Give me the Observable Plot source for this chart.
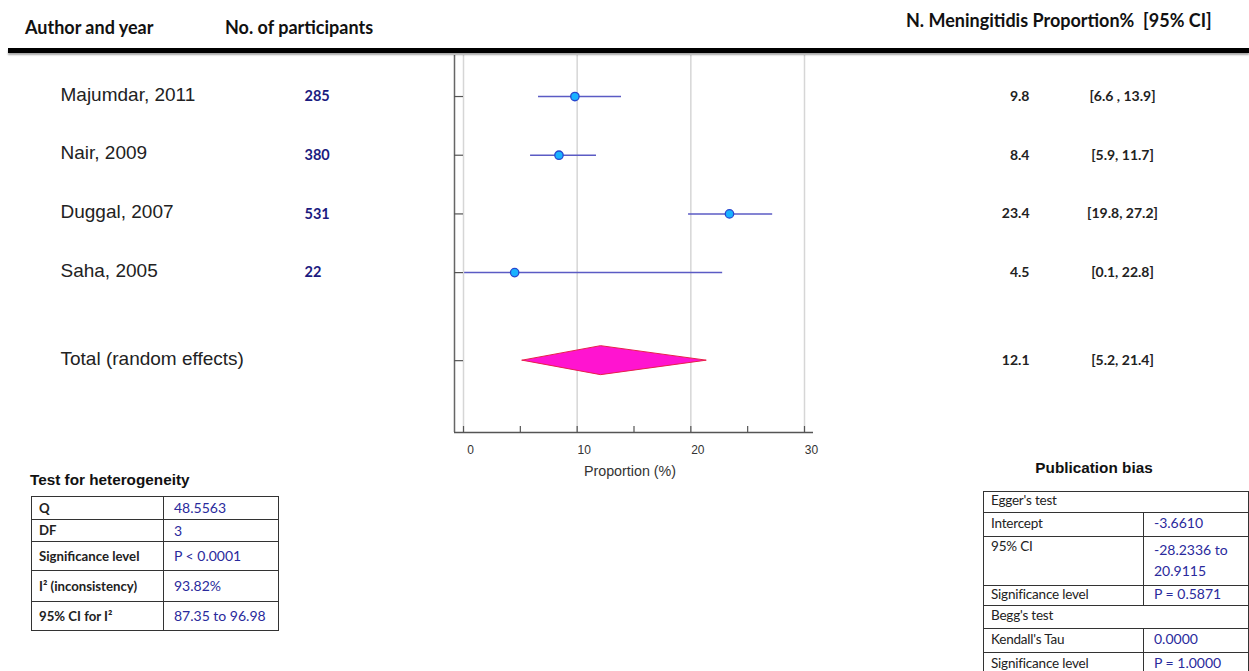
<!DOCTYPE html>
<html>
<head>
<meta charset="utf-8">
<script src="https://cdn.jsdelivr.net/npm/d3@7"></script>
<script src="https://cdn.jsdelivr.net/npm/@observablehq/plot@0.6"></script>
<style>
  html, body { margin: 0; padding: 0; background: #fff; }
  #wrap { position: relative; width: 1249px; height: 671px; overflow: hidden; font-family: "Liberation Sans", Arial, sans-serif; }
  #chart { position: absolute; left: 0; top: 0; }
  .hdr { position: absolute; font-family: Lato, "Open Sans", sans-serif; font-weight: 700; font-size: 18px; color: #111; white-space: pre; line-height: 1; }
  #hline { position: absolute; left: 8px; top: 48px; width: 1241px; height: 5px; background: #000; box-shadow: 0 2px 2px rgba(0,0,0,0.35); }
  .ttl { position: absolute; font-family: "Liberation Sans", Arial, sans-serif; font-weight: 700; font-size: 15.3px; color: #111; white-space: nowrap; line-height: 1; }
  table.st { position: absolute; border-collapse: collapse; font-family: Lato, "Open Sans", sans-serif; table-layout: fixed; }
  table.st td { border: 1.5px solid #333; padding: 0 0 0 7px; vertical-align: middle; white-space: nowrap; line-height: 1.1; overflow: hidden; }
  table.st td.lab { font-size: 13.2px; font-weight: 700; color: #222; }
  table.st td.val { font-size: 14px; color: #2a2a9c; padding-left: 10px; }
  table.pb td { padding-bottom: 3px; }
  table.pb td.lab { font-weight: 400; font-size: 13.5px; color: #222; letter-spacing: -0.2px; }
  g[aria-label="names"] text { letter-spacing: 0.6px; }
</style>
</head>
<body>
<div id="wrap">
  <div id="chart"></div>
</div>
<script>
// ---- data ----
const studies = ["Majumdar, 2011", "Nair, 2009", "Duggal, 2007", "Saha, 2005"];
const participants = [285, 380, 531, 22];
const estimates = [9.8, 8.4, 23.4, 4.5];
const lower = [6.6, 5.9, 19.8, 0.1];
const upper = [13.9, 11.7, 27.2, 22.8];
const ciLabels = ["[6.6 , 13.9]", "[5.9, 11.7]", "[19.8, 27.2]", "[0.1, 22.8]"];

const totalLabel = "Total (random effects)";
const totalEstimate = 12.1;
const totalLower = 5.2;
const totalUpper = 21.4;
const totalCiLabel = "[5.2, 21.4]";

const xTickLabels = [0, 10, 20, 30];
const xTicksAll = [0, 5, 10, 15, 20, 25, 30];

const headers = ["Author and year", "No. of participants", "N. Meningitidis Proportion%  [95% CI]"];

const hetTitle = "Test for heterogeneity";
const hetLabels = ["Q", "DF", "Significance level", "I\u00B2 (inconsistency)", "95% CI for I\u00B2"];
const hetValues = ["48.5563", "3", "P < 0.0001", "93.82%", "87.35 to 96.98"];

const pubTitle = "Publication bias";
const eggerLabels = ["Intercept", "95% CI", "Significance level"];
const eggerValues = ["-3.6610", "-28.2336 to<br>20.9115", "P = 0.5871"];
const beggLabels = ["Kendall's Tau", "Significance level"];
const beggValues = ["0.0000", "P = 1.0000"];

// ---- build table ----
const rows = studies.map((s, i) => ({
  name: s, n: participants[i], est: estimates[i], lo: lower[i], hi: upper[i], ci: ciLabels[i], pos: i
}));
const totalPos = studies.length + 0.5;
const total = {name: totalLabel, est: totalEstimate, lo: totalLower, hi: totalUpper, ci: totalCiLabel, pos: totalPos};
const allRows = [...rows, total];
const halfH = 0.247; // diamond half-height in row units
const diamond = [
  {x: total.lo, y1: total.pos, y2: total.pos},
  {x: total.est, y1: total.pos - halfH, y2: total.pos + halfH},
  {x: total.hi, y1: total.pos, y2: total.pos}
];

const W = 1249, H = 671;
const mTop = 55, mBottom = 239, mLeft = 454, mRight = 436;
const frameW = W - mLeft - mRight, frameH = H - mTop - mBottom;
const xDomain = [-0.792, 30.792];
const yDomain = [-0.699, 5.724];

const plot = Plot.plot({
  width: W, height: H,
  marginTop: mTop, marginBottom: mBottom, marginLeft: mLeft, marginRight: mRight,
  x: {domain: xDomain, axis: null},
  y: {domain: yDomain, reverse: true, axis: null},
  style: {fontFamily: "'Liberation Sans', Arial, sans-serif", background: "transparent"},
  marks: [
    Plot.ruleX(xTickLabels, {x: d => d, stroke: "#d6d6d6", strokeWidth: 1.5}),
    Plot.ruleX([xDomain[0]], {stroke: "#666", strokeWidth: 1.5}),
    Plot.ruleY([yDomain[1]], {stroke: "#555", strokeWidth: 1.5}),
    Plot.ruleX(xTicksAll, {x: d => d, insetTop: frameH - 6, stroke: "#555", strokeWidth: 1.2}),
    Plot.ruleY(allRows, {y: "pos", insetRight: frameW - 9, stroke: "#555", strokeWidth: 1.2}),
    Plot.text(xTickLabels, {x: d => d, text: d => String(d), frameAnchor: "bottom", dy: 21, dx: 7, fontSize: 12, fill: "#333"}),
    Plot.text([{t: "Proportion (%)"}], {text: "t", frameAnchor: "bottom", dy: 43, dx: -4, fontSize: 14.3, fill: "#333"}),
    Plot.ruleY(rows, {y: "pos", x1: "lo", x2: "hi", stroke: "#5b5bc4", strokeWidth: 1.5}),
    Plot.dot(rows, {x: "est", y: "pos", r: 4.2, fill: "#19b2ff", stroke: "#2648d0", strokeWidth: 1.3}),
    Plot.areaY(diamond, {x: "x", y1: "y1", y2: "y2", fill: "#ff14d0", stroke: "#e8204a", strokeWidth: 1, curve: "linear"}),
    Plot.text(allRows, {y: "pos", text: "name", frameAnchor: "left", textAnchor: "start", dx: -394, dy: -2, fontSize: 19, fill: "#222", ariaLabel: "names"}),
    Plot.text(rows, {y: "pos", text: d => String(d.n), frameAnchor: "left", textAnchor: "start", dx: -150, fontSize: 14.5, fontWeight: 700, fontFamily: "Lato, 'Open Sans', sans-serif", fill: "#1b1b80"}),
    Plot.text(allRows, {y: "pos", text: d => d.est.toFixed(1), frameAnchor: "right", textAnchor: "end", dx: 216, fontSize: 14, fontWeight: 700, fontFamily: "Lato, 'Open Sans', sans-serif", fill: "#222"}),
    Plot.text(allRows, {y: "pos", text: "ci", frameAnchor: "right", textAnchor: "middle", dx: 309, fontSize: 14, fontWeight: 700, fontFamily: "Lato, 'Open Sans', sans-serif", fill: "#222"})
  ]
});
document.getElementById("chart").appendChild(plot);

const wrap = document.getElementById("wrap");
function add(html) { wrap.insertAdjacentHTML("beforeend", html); }

add(`<div class="hdr" style="left:25px;top:18px">${headers[0]}</div>`);
add(`<div class="hdr" style="left:225px;top:18px">${headers[1]}</div>`);
add(`<div class="hdr" style="left:906px;top:11px">${headers[2]}</div>`);
add(`<div id="hline"></div>`);

add(`<div class="ttl" style="left:30px;top:472px">${hetTitle}</div>`);
const hetHeights = [23, 22, 29, 31, 29];
add(`<table class="st" style="left:31px;top:496px;width:248px"><colgroup><col style="width:132px"><col></colgroup>` +
  hetLabels.map((l, i) => `<tr style="height:${hetHeights[i]}px"><td class="lab">${l}</td><td class="val">${hetValues[i]}</td></tr>`).join("") +
  `</table>`);

add(`<div class="ttl" style="left:1094px;top:460px;transform:translateX(-50%)">${pubTitle}</div>`);
const eH = [24, 49, 20];
const bH = [24, 24];
add(`<table class="st pb" style="left:983px;top:491px;width:266px"><colgroup><col style="width:160px"><col></colgroup>` +
  `<tr style="height:21px"><td class="lab" colspan="2">Egger's test</td></tr>` +
  eggerLabels.map((l, i) => `<tr style="height:${eH[i]}px"><td class="lab" style="vertical-align:${i===1?'top':'middle'};padding-top:${i===1?2:0}px">${l}</td><td class="val" style="vertical-align:${i===1?'top':'middle'};padding-top:${i===1?2:0}px;line-height:${i===1?1.5:1.1}">${eggerValues[i]}</td></tr>`).join("") +
  `<tr style="height:23px"><td class="lab" colspan="2">Begg's test</td></tr>` +
  beggLabels.map((l, i) => `<tr style="height:${bH[i]}px"><td class="lab">${l}</td><td class="val">${beggValues[i]}</td></tr>`).join("") +
  `</table>`);
</script>
</body>
</html>
